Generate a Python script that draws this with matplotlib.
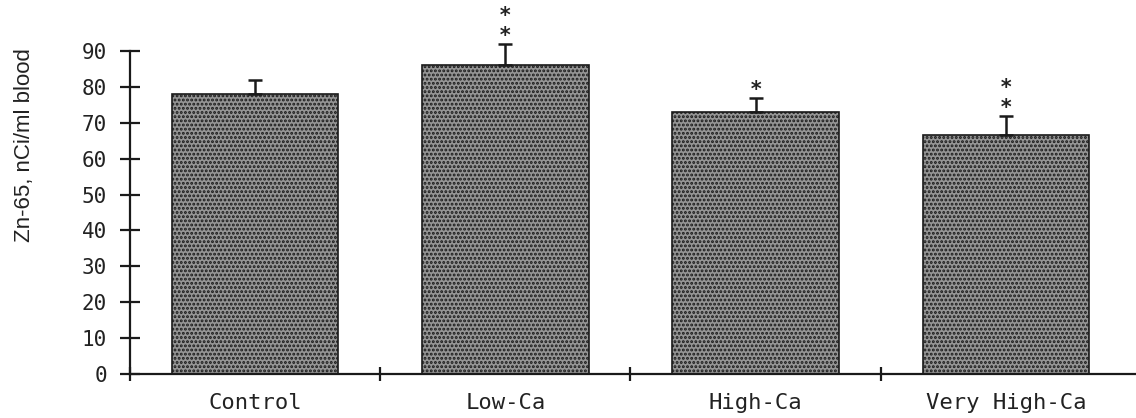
import numpy as np
import matplotlib
matplotlib.use('Agg')
import matplotlib.pyplot as plt
from matplotlib.ticker import FixedLocator, NullFormatter

# data
groups = ['Control', 'Low-Ca', 'High-Ca', 'Very High-Ca']
zn65_means = [78, 86, 73, 66.5]
zn65_sem = [4, 6, 4, 5.5]
stars = ['', '**', '*', '**']
y_ticks = [0, 10, 20, 30, 40, 50, 60, 70, 80, 90]

plt.rcParams['hatch.linewidth'] = 1.4
plt.rcParams['hatch.color'] = '#404040'

fig = plt.figure(figsize=(11.36, 4.18), dpi=100)
ax = fig.add_axes([130 / 1136, 44 / 418, 1006 / 1136, 323 / 418])

x = np.arange(len(groups))
ax.bar(x, zn65_means, width=0.665, color='#959595', edgecolor='#1a1a1a',
       linewidth=1.2, hatch='....', zorder=2)
ax.errorbar(x, zn65_means, yerr=[np.zeros(len(x)), zn65_sem], fmt='none',
            ecolor='#1a1a1a', elinewidth=1.8, capsize=5, capthick=1.8,
            clip_on=False, zorder=3)

# significance marks, stacked vertically
for xi, m, e, s in zip(x, zn65_means, zn65_sem, stars):
    if s:
        ax.annotate('\n'.join(s), (xi, m + e), xytext=(0, 1),
                    textcoords='offset points', ha='center', va='baseline',
                    fontsize=15, family='DejaVu Sans Mono', color='#222222',
                    fontweight='bold', linespacing=1.0, annotation_clip=False)

ax.set_xlim(-0.5, 3.52)
ax.set_ylim(0, 90)
ax.set_yticks(y_ticks)
ax.spines['top'].set_visible(False)
ax.spines['right'].set_visible(False)
for sp in ('left', 'bottom'):
    ax.spines[sp].set_linewidth(1.6)
    ax.spines[sp].set_color('#1a1a1a')

ax.tick_params(axis='y', direction='inout', length=15, width=1.6,
               color='#1a1a1a', pad=9, labelsize=15, labelcolor='#222222')
for lab in ax.get_yticklabels():
    lab.set_family('DejaVu Sans Mono')

ax.xaxis.set_major_locator(FixedLocator([-0.5, 0.5, 1.5, 2.5]))
ax.xaxis.set_major_formatter(NullFormatter())
ax.xaxis.set_minor_locator(FixedLocator(x))
ax.set_xticklabels(groups, minor=True)
ax.tick_params(axis='x', which='major', direction='inout', length=10,
               width=1.6, color='#1a1a1a')
ax.tick_params(axis='x', which='minor', length=0, pad=14, labelsize=16,
               labelcolor='#222222')
for lab in ax.get_xticklabels(minor=True):
    lab.set_family('DejaVu Sans Mono')

ax.set_ylabel('Zn-65, nCi/ml blood', fontsize=16,
              family=['Liberation Sans', 'DejaVu Sans'],
              color='#222222')
ax.yaxis.set_label_coords(-0.094, 0.71)

fig.savefig('out.png', dpi=100)
